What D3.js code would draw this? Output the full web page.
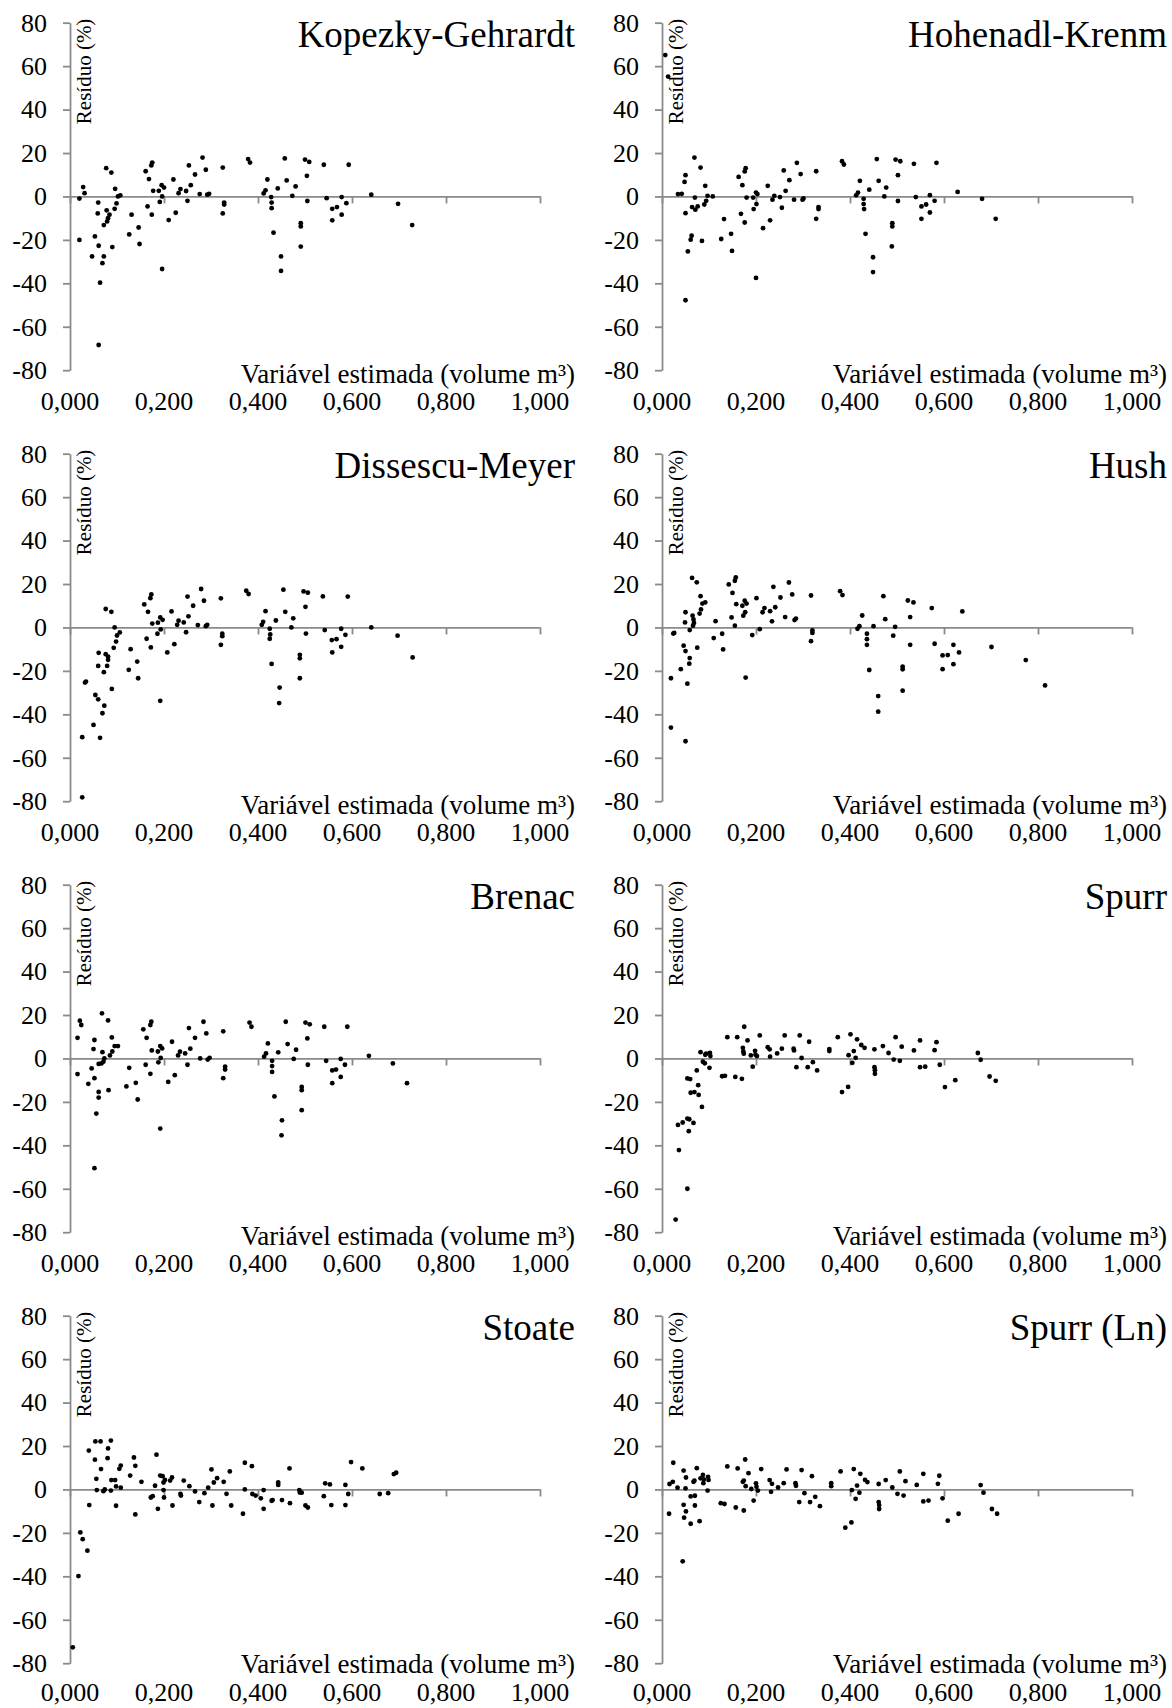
<!DOCTYPE html>
<html>
<head>
<meta charset="utf-8">
<script src="https://cdn.jsdelivr.net/npm/d3@7"></script>
<style>
  html, body { margin: 0; padding: 0; background: #fff; }
  svg { display: block; }
  svg text { font-family: 'Liberation Serif', 'Times New Roman', Times, serif; }
</style>
</head>
<body>
<svg id="chart" width="1172" height="1708"></svg>
<script>
// Residual plots: residual (%) against estimated volume (m³), one panel per volume model.
const panelTitles = ["Kopezky-Gehrardt", "Hohenadl-Krenm", "Dissescu-Meyer", "Hush",
                     "Brenac", "Spurr", "Stoate", "Spurr (Ln)"];
const xAxisTitle = "Variável estimada (volume m³)";
const yAxisTitle = "Resíduo (%)";
const xTicks = [0, 0.2, 0.4, 0.6, 0.8, 1.0];
const yTicks = [80, 60, 40, 20, 0, -20, -40, -60, -80];

// [estimated volume, residual %]
const kopezky = [[0.020,-1],[0.028,4.3],[0.031,1.5],[0.020,-20],[0.047,-27.6],[0.053,-18.4],[0.060,-2.8],[0.059,-7.8],[0.061,-22.7],[0.064,-39.7],[0.061,-68.4],[0.069,-30.7],[0.072,-27.6],[0.072,-13.2],[0.077,13],[0.078,-6.4],[0.079,-11.5],[0.081,-10],[0.084,-8.4],[0.088,11],[0.090,-23.3],[0.095,-5.7],[0.096,3.5],[0.099,-3.2],[0.102,0],[0.107,0.5],[0.126,-17.5],[0.131,-8.4],[0.146,-14.3],[0.148,-21.9],[0.161,11.6],[0.165,-4.6],[0.168,8],[0.173,14.3],[0.175,15.6],[0.174,-8.4],[0.177,2.6],[0.189,2.6],[0.191,-2.5],[0.195,5.2],[0.196,0],[0.200,4.1],[0.196,-33.4],[0.210,-10.9],[0.220,7.8],[0.225,-7.5],[0.231,1.5],[0.235,3.4],[0.247,2.5],[0.250,-2],[0.253,14.3],[0.257,5.2],[0.266,10.1],[0.276,1.1],[0.282,17.9],[0.289,12.3],[0.292,0.8],[0.296,1.2],[0.325,13.3],[0.328,-2.8],[0.328,-3.7],[0.325,-7.8],[0.379,17.2],[0.383,15.6],[0.412,1.4],[0.416,2.8],[0.420,7.8],[0.428,-0.3],[0.429,-2.8],[0.429,-5.4],[0.433,-16.7],[0.442,3.7],[0.449,-27.6],[0.449,-34.3],[0.457,17.5],[0.461,7.4],[0.473,0.3],[0.480,4.6],[0.491,-12.3],[0.491,-13.8],[0.491,-23.1],[0.500,17],[0.504,9.5],[0.505,-2.1],[0.509,15.9],[0.540,14.6],[0.546,-0.8],[0.558,-5.7],[0.558,-11],[0.568,-4.9],[0.578,-0.3],[0.578,-8.4],[0.588,-3.1],[0.593,14.6],[0.641,0.8],[0.698,-3.4],[0.728,-13.2]];

const hohenadl = [[0.007,65.1],[0.013,55.2],[0.034,1.1],[0.042,1.2],[0.048,6.7],[0.050,9.8],[0.050,-7.7],[0.050,-47.8],[0.055,-25.3],[0.061,-19.9],[0.063,-18.1],[0.064,-4.9],[0.069,17.9],[0.070,-0.5],[0.071,-6.1],[0.076,-4.6],[0.082,13.3],[0.085,-20.5],[0.090,-3.7],[0.092,4.9],[0.094,-2],[0.097,0.3],[0.108,0],[0.126,-19.6],[0.132,-10.4],[0.147,-17.2],[0.149,-25.1],[0.163,9],[0.168,-8],[0.171,5.2],[0.176,11.5],[0.178,13],[0.176,-12],[0.180,-0.5],[0.194,-0.5],[0.195,-5.8],[0.200,1.8],[0.201,-3.5],[0.203,1.1],[0.200,-37.5],[0.215,-14.6],[0.225,4.9],[0.230,-11],[0.235,-1.5],[0.239,0.3],[0.251,-0.3],[0.255,-5.2],[0.259,12],[0.263,2.6],[0.271,7.5],[0.281,-1.5],[0.287,15.5],[0.295,10.3],[0.299,-1.5],[0.301,-0.9],[0.328,11.6],[0.328,-10.3],[0.333,-4.9],[0.333,-5.8],[0.383,16.2],[0.387,14.7],[0.413,0.5],[0.417,1.8],[0.421,7.2],[0.429,-1.1],[0.429,-3.5],[0.430,-5.8],[0.433,-17.2],[0.441,3.1],[0.449,-28],[0.449,-34.8],[0.457,17.2],[0.461,7.2],[0.473,0],[0.477,4.1],[0.490,-12.3],[0.490,-13.8],[0.489,-23],[0.497,17],[0.502,9.8],[0.502,-2.1],[0.507,16.2],[0.536,15],[0.540,-0.3],[0.552,-4.6],[0.552,-10.3],[0.562,-3.7],[0.570,0.6],[0.570,-7.4],[0.580,-2],[0.584,15.5],[0.629,2.1],[0.681,-1.1],[0.710,-10.3]];

const dissescu = [[0.026,-50.5],[0.026,-78.2],[0.032,-25.4],[0.034,-24.9],[0.050,-44.9],[0.054,-31.1],[0.060,-33.1],[0.060,-17.7],[0.061,-11.7],[0.064,-50.8],[0.069,-39.5],[0.072,-20.6],[0.073,-36],[0.076,8.5],[0.076,-12.3],[0.079,-17.7],[0.081,-13.5],[0.081,-14.9],[0.088,7.2],[0.089,-28.3],[0.093,-9.4],[0.095,0],[0.098,-6.5],[0.100,-3.7],[0.106,-2.3],[0.125,-19.5],[0.129,-10],[0.143,-15.7],[0.145,-23.4],[0.158,10.6],[0.163,-5.2],[0.166,7.2],[0.171,13.5],[0.173,15.2],[0.172,-9.2],[0.175,1.8],[0.186,-2.9],[0.187,2.2],[0.192,4.6],[0.193,-0.9],[0.197,3.5],[0.192,-33.8],[0.207,-11.5],[0.216,7.4],[0.222,-7.7],[0.228,1.2],[0.231,3.1],[0.242,2.3],[0.247,-2.2],[0.250,14.2],[0.252,5.1],[0.262,10],[0.272,1.1],[0.279,17.7],[0.285,12.3],[0.289,0.6],[0.292,1.2],[0.321,13.4],[0.324,-2.9],[0.324,-4],[0.321,-8],[0.375,16.9],[0.380,15.4],[0.408,1.2],[0.411,2.6],[0.416,7.5],[0.425,-0.6],[0.426,-3.2],[0.425,-5.2],[0.429,-16.8],[0.438,3.2],[0.446,-27.7],[0.445,-34.8],[0.454,17.4],[0.458,7.2],[0.471,0],[0.475,4.2],[0.489,-12.6],[0.489,-14.2],[0.489,-23.4],[0.497,16.6],[0.501,9.5],[0.502,-2.8],[0.506,16],[0.538,14.3],[0.542,-1.2],[0.557,-5.8],[0.558,-11.5],[0.567,-5.4],[0.577,-0.6],[0.577,-8.9],[0.586,-3.4],[0.591,14.2],[0.641,0],[0.697,-3.8],[0.729,-13.8]];

const hush = [[0.019,-23.4],[0.019,-46.1],[0.024,-2.8],[0.026,-2.5],[0.040,-19.2],[0.046,-8.4],[0.049,2.3],[0.050,7],[0.050,-10.9],[0.050,-52.4],[0.054,-25.9],[0.058,-16.7],[0.059,-14.1],[0.059,-1.2],[0.064,22.8],[0.065,5.4],[0.066,0.8],[0.067,3.7],[0.068,2.1],[0.074,20.8],[0.075,-9.3],[0.080,6.4],[0.082,14.4],[0.083,8.3],[0.086,11],[0.092,11.5],[0.110,-4.9],[0.114,2.9],[0.128,-2.9],[0.130,-10.1],[0.142,19.8],[0.148,4.6],[0.150,15.9],[0.155,0.8],[0.155,21.5],[0.157,23],[0.158,10.7],[0.171,10],[0.173,5.4],[0.176,12.3],[0.177,7],[0.180,11],[0.178,-23.1],[0.192,-3.5],[0.201,13.5],[0.208,-0.8],[0.214,7],[0.218,8.9],[0.230,7.5],[0.234,2.8],[0.237,18.7],[0.241,9.3],[0.252,13.8],[0.262,4.8],[0.270,20.7],[0.277,15.2],[0.282,3.4],[0.285,4.1],[0.317,14.7],[0.320,-1.4],[0.320,-2.5],[0.317,-6.3],[0.379,16.7],[0.384,14.9],[0.416,-0.6],[0.420,0.6],[0.426,5.5],[0.436,-2.9],[0.436,-5.4],[0.436,-8],[0.441,-19.6],[0.450,0.6],[0.460,-31.6],[0.460,-38.8],[0.471,14.4],[0.475,3.8],[0.492,-3.8],[0.496,0.3],[0.512,-18.1],[0.512,-19.3],[0.512,-29.1],[0.523,12.4],[0.528,4.8],[0.528,-8],[0.535,11.5],[0.574,8.9],[0.580,-7.5],[0.597,-12.9],[0.597,-19.2],[0.608,-12.7],[0.620,-8],[0.620,-16.9],[0.632,-11.5],[0.639,7.4],[0.701,-9],[0.774,-15],[0.815,-26.7]];

const brenac = [[0.016,9.5],[0.016,-7.2],[0.021,17.4],[0.024,15.4],[0.039,-11.7],[0.046,-4.6],[0.050,4.3],[0.052,8.5],[0.052,-9.1],[0.052,-50.5],[0.056,-25.4],[0.061,-18],[0.061,-15.4],[0.061,-2.5],[0.068,20.8],[0.069,2.9],[0.067,-2.3],[0.071,-1.5],[0.073,0],[0.081,17.5],[0.082,-14.6],[0.085,1.4],[0.089,9.7],[0.090,3.2],[0.095,5.7],[0.102,5.7],[0.120,-12.9],[0.126,-4.3],[0.140,-11.2],[0.144,-18.9],[0.156,13.4],[0.161,-2.9],[0.163,9.5],[0.171,-7.1],[0.171,15.4],[0.173,16.9],[0.174,3.7],[0.187,3.2],[0.188,-1.8],[0.192,5.7],[0.193,0.2],[0.196,4.6],[0.192,-32.3],[0.209,-10.8],[0.217,7.7],[0.223,-7.7],[0.230,1.4],[0.234,3.1],[0.245,2.3],[0.250,-2.9],[0.253,14],[0.256,4.5],[0.266,9.5],[0.277,0],[0.284,16.9],[0.290,11.5],[0.293,-0.5],[0.297,0.3],[0.326,12.5],[0.330,-3.8],[0.330,-5.1],[0.326,-9.1],[0.382,16.5],[0.386,14.6],[0.413,0.8],[0.417,2.3],[0.421,6.9],[0.430,-1.1],[0.430,-3.5],[0.430,-6.2],[0.435,-17.5],[0.443,2.8],[0.451,-28.5],[0.450,-35.4],[0.459,16.9],[0.463,6.6],[0.476,-0.2],[0.481,4],[0.493,-13.1],[0.493,-14.6],[0.493,-23.8],[0.501,16.5],[0.505,9.2],[0.506,-2.9],[0.510,15.7],[0.541,14.6],[0.545,-1.1],[0.558,-5.5],[0.558,-11.4],[0.566,-5.1],[0.576,-0.2],[0.576,-8.5],[0.585,-2.9],[0.590,14.6],[0.636,1.2],[0.687,-2.3],[0.717,-11.4]];

const spurr = [[0.029,-74.2],[0.034,-30.6],[0.036,-42.2],[0.044,-29.5],[0.054,-9.2],[0.054,-60],[0.054,-27.7],[0.057,-33.5],[0.058,-28],[0.060,-9.5],[0.061,-15.8],[0.067,-29.7],[0.069,-15.5],[0.074,-5.5],[0.077,-12.3],[0.078,-16.8],[0.082,2.9],[0.085,-22.3],[0.087,-1.5],[0.091,-2.2],[0.092,1.7],[0.094,2.2],[0.101,-4.3],[0.102,2.5],[0.103,1.1],[0.128,-8.2],[0.134,-8],[0.139,9.8],[0.156,-8.5],[0.160,9.8],[0.170,-9.4],[0.172,4.9],[0.173,3.2],[0.175,14.6],[0.174,2.2],[0.182,8.3],[0.189,1.4],[0.193,-3.8],[0.198,3.5],[0.199,1.7],[0.202,1.1],[0.208,10.6],[0.225,5.2],[0.229,4.2],[0.230,0.8],[0.245,2.3],[0.255,4.5],[0.261,10.6],[0.280,4.5],[0.281,3.7],[0.286,-4],[0.293,10.6],[0.297,0.2],[0.310,-4],[0.313,7.7],[0.321,-1.7],[0.330,-5.5],[0.356,4.3],[0.356,3.4],[0.374,9.8],[0.383,-15.5],[0.396,-13.1],[0.397,1.5],[0.401,11.1],[0.405,-2],[0.408,3.4],[0.412,0.3],[0.415,8.8],[0.424,6.2],[0.431,4.9],[0.452,4.2],[0.452,-4],[0.453,-5.4],[0.453,-7.1],[0.470,5.7],[0.482,2.5],[0.493,-0.5],[0.497,9.8],[0.506,-1.1],[0.510,5.4],[0.536,3.7],[0.549,8.3],[0.549,-4],[0.560,-3.8],[0.580,3.8],[0.584,7.5],[0.591,-2.9],[0.602,-13.2],[0.624,-10],[0.672,2.5],[0.678,-0.6],[0.697,-8.3],[0.710,-10.3]];

const stoate = [[0.006,-72.7],[0.018,-39.9],[0.022,-19.8],[0.027,-22.9],[0.037,-28.2],[0.040,17.9],[0.041,-7.2],[0.053,13.7],[0.054,22.1],[0.056,4.9],[0.057,-0.3],[0.065,22.1],[0.066,9.4],[0.071,-0.8],[0.074,0],[0.080,14.4],[0.081,18.9],[0.087,22.5],[0.087,-0.5],[0.088,4.3],[0.096,4.3],[0.098,1.4],[0.098,-7.5],[0.105,9.5],[0.108,0.8],[0.108,11],[0.128,6.4],[0.136,14.7],[0.139,10.9],[0.139,-11.5],[0.152,3.5],[0.172,-3.7],[0.176,-3.1],[0.181,1.7],[0.184,16],[0.187,-8.9],[0.192,6.4],[0.197,6.1],[0.199,3.2],[0.199,-0.3],[0.200,-3.7],[0.202,4.4],[0.213,4.1],[0.217,5.5],[0.218,-7.4],[0.235,-2],[0.236,-2.8],[0.242,4.1],[0.254,1.5],[0.266,-0.9],[0.275,-5.8],[0.286,-1.7],[0.294,0.8],[0.301,9.2],[0.303,-7.4],[0.306,3.2],[0.313,5.2],[0.327,3.5],[0.333,-2],[0.340,8.3],[0.343,-7.4],[0.368,-11.2],[0.372,0],[0.372,12.3],[0.387,10.7],[0.388,-2.1],[0.395,-2.8],[0.406,-4.1],[0.412,-0.3],[0.412,-8.9],[0.429,-5.2],[0.431,-4.9],[0.443,3.2],[0.443,2.1],[0.451,-4.9],[0.467,9.7],[0.468,-6.3],[0.488,-0.3],[0.489,-1.4],[0.493,-1.5],[0.501,-7.4],[0.506,-8.3],[0.540,-3.1],[0.543,2.8],[0.553,2.3],[0.556,-7.2],[0.586,2.1],[0.586,-7.2],[0.592,-2.1],[0.598,12.6],[0.622,9.7],[0.659,-2.1],[0.677,-1.7],[0.689,7.1],[0.694,7.7]];

const spurrLn = [[0.015,-11.2],[0.016,2.5],[0.023,3.5],[0.024,12.3],[0.033,0.8],[0.044,-33.1],[0.046,8.7],[0.046,-7.1],[0.047,-13],[0.050,0.5],[0.051,5.5],[0.051,-10.1],[0.061,-3.2],[0.061,-15.8],[0.067,3.5],[0.069,4],[0.070,-7.4],[0.070,-2.9],[0.074,9.8],[0.080,-14.6],[0.082,5.1],[0.087,6.7],[0.088,2.9],[0.089,4.6],[0.097,-0.5],[0.098,5.8],[0.099,4.4],[0.125,-6.3],[0.133,-6.7],[0.139,10.6],[0.157,-8.3],[0.161,9.7],[0.172,3.5],[0.174,-9.7],[0.174,4.1],[0.177,13.8],[0.178,1.5],[0.184,7.5],[0.190,0.2],[0.195,-5.1],[0.200,2.8],[0.201,1.2],[0.204,-0.5],[0.211,9.4],[0.229,4.3],[0.232,-1.1],[0.234,2.6],[0.247,0.9],[0.259,2.9],[0.265,9.2],[0.284,2.9],[0.285,1.7],[0.292,-5.8],[0.297,8.9],[0.303,-1.7],[0.315,-5.8],[0.319,6.1],[0.326,-3.4],[0.336,-7.7],[0.360,2.9],[0.360,1.5],[0.380,8.3],[0.390,-17.6],[0.403,-15.2],[0.404,-0.3],[0.408,9.4],[0.412,-4.3],[0.415,1.8],[0.420,-1.5],[0.422,7.2],[0.432,4.4],[0.437,3.4],[0.461,2.5],[0.461,-5.8],[0.462,-7.2],[0.462,-9],[0.476,4.3],[0.490,0.9],[0.501,-2],[0.506,8.3],[0.514,-2.8],[0.518,3.8],[0.542,2.1],[0.556,7.2],[0.556,-5.5],[0.567,-5.1],[0.587,2.6],[0.590,6.3],[0.597,-4.1],[0.608,-14.4],[0.631,-11.2],[0.678,2],[0.684,-1.5],[0.702,-9],[0.713,-11.2]];

const panelData = [kopezky, hohenadl, dissescu, hush, brenac, spurr, stoate, spurrLn];

// ---- layout ----
const colLeft = [70, 662];                    // x of the vertical axis in each column
const rowTop = [22.7, 453.7, 884.7, 1315.7];  // y of the 80 % gridline in each row
const plotW = 470, plotH = 347.5;
const xTitleDy = [12.5, 12.5, 12.5, 10];      // baseline of the x-axis title below the plot
const xLabelDy = [40, 40, 40, 37.5];          // baseline of the x tick labels below the plot

const FONT = "'Liberation Serif', 'Times New Roman', Times, serif";
const AXIS_COLOR = "#8a8a8a";

const locale = d3.formatLocale({decimal: ",", thousands: ".", grouping: [3], currency: ["", ""], minus: "-"});
const fmtX = locale.format(".3f");
const fmtY = locale.format("d");

const x = d3.scaleLinear().domain([0, 1]).range([0, plotW]);
const y = d3.scaleLinear().domain([-80, 80]).range([plotH, 0]);

const svg = d3.select("#chart");

panelData.forEach((pts, i) => {
  const col = i % 2, row = Math.floor(i / 2);
  const g = svg.append("g").attr("transform", `translate(${colLeft[col]},${rowTop[row]})`);

  // vertical axis with tick labels
  const yAxis = g.append("g")
    .call(d3.axisLeft(y).tickValues(yTicks).tickFormat(fmtY).tickSize(7).tickSizeOuter(0).tickPadding(16));
  yAxis.attr("font-family", FONT).attr("font-size", 26);
  yAxis.selectAll("text").attr("fill", "#000");

  // horizontal axis along the zero line, ticks pointing down
  g.append("g").attr("transform", `translate(0,${y(0)})`)
    .call(d3.axisBottom(x).tickValues(xTicks).tickFormat("").tickSize(7).tickSizeOuter(0));

  g.selectAll(".domain, .tick line")
    .attr("stroke", AXIS_COLOR).attr("stroke-width", 1.8);

  // x tick labels along the bottom of the panel
  g.append("g").selectAll("text").data(xTicks).join("text")
    .attr("x", d => x(d)).attr("y", plotH + xLabelDy[row])
    .attr("text-anchor", "middle")
    .attr("font-family", FONT).attr("font-size", 26).attr("fill", "#000")
    .text(d => fmtX(d));

  // x-axis title
  g.append("text")
    .attr("x", 505).attr("y", plotH + xTitleDy[row])
    .attr("text-anchor", "end")
    .attr("font-family", FONT).attr("font-size", 27).attr("fill", "#000")
    .text(xAxisTitle);

  // y-axis title, rotated, just inside the axis
  g.append("text")
    .attr("transform", `translate(20.5,101.5) rotate(-90)`)
    .attr("text-anchor", "start")
    .attr("font-family", FONT).attr("font-size", 21).attr("fill", "#000")
    .text(yAxisTitle);

  // panel title
  g.append("text")
    .attr("x", 505).attr("y", 24)
    .attr("text-anchor", "end")
    .attr("font-family", FONT).attr("font-size", 37).attr("fill", "#000")
    .text(panelTitles[i]);

  // residual points
  g.append("g").selectAll("circle").data(pts).join("circle")
    .attr("cx", d => x(d[0])).attr("cy", d => y(d[1]))
    .attr("r", 2.4).attr("fill", "#000");
});
</script>
</body>
</html>
